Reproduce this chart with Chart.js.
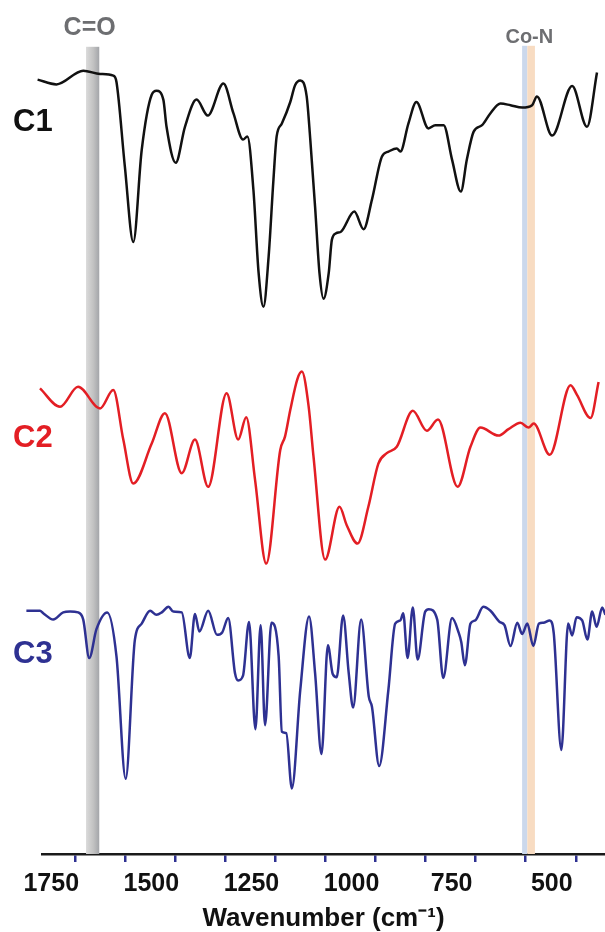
<!DOCTYPE html>
<html>
<head>
<meta charset="utf-8">
<script src="https://cdn.jsdelivr.net/npm/chart.js@4.4.0/dist/chart.umd.min.js"></script>
<style>
  html, body { margin: 0; padding: 0; background: #fff; }
  #wrap { width: 605px; height: 932px; }
</style>
</head>
<body>
<div id="wrap"><canvas id="irChart" width="605" height="932"></canvas></div>
<script>
// IR spectra, wavenumber (cm-1) vs offset transmittance (a.u.)
const c1Wavenumber = [1844,1797,1730,1688,1655,1647,1626,1605,1584,1559,1547,1530,1522,1499,1476,1447,1419,1380,1355,1331,1320,1305,1292,1280,1267,1255,1247,1234,1213,1201,1188,1172,1163,1151,1140,1130,1117,1109,1098,1086,1053,1030,1009,984,968,947,938,918,898,868,851,830,809,787,772,755,734,713,688,663,634,609,597,559,509,472,447];
const c1Signal = [96.8,96.2,97.9,97.5,97.3,96.5,85.9,76.5,88,94.9,95.4,94.3,90.9,86.4,90.9,94.3,92.3,96.3,92.6,89.3,89.7,83,72.6,68.4,74.7,84.3,89.7,91.3,94.0,96.1,96.7,94.7,89.3,80.9,72.6,69.4,72.6,76.8,77.6,77.8,80.3,78.1,81.8,87.2,87.8,88.2,87.8,91.3,94.0,90.7,91.1,91.1,86.8,82.8,86.8,90.3,91.1,92.6,93.8,93.6,93.3,93.6,94.7,89.8,96,90.9,97.7];

const c2Wavenumber = [1838,1788,1743,1688,1655,1630,1605,1559,1526,1484,1451,1418,1372,1343,1323,1301,1273,1238,1226,1213,1195,1184,1167,1155,1126,1090,1072,1045,1018,993,972,947,907,872,844,795,763,738,693,668,638,618,605,565,513,497,463,443];
const c2Signal = [58.2,55.9,58.4,55.7,58,51.8,46.3,51.3,55.1,47.6,51.8,45.9,57.6,51.8,54.6,46.8,36.3,50.5,52.2,55.5,59.4,60.3,55.9,49.7,36.8,43.4,41.1,38.8,43.4,48.8,50.1,50.9,55.4,52.9,54.3,45.9,50.9,53.3,52.3,53.1,53.9,53.3,53.8,49.9,58.6,57.4,54.5,59.0];

const c3Wavenumber = [1872,1838,1830,1805,1780,1763,1743,1730,1715,1697,1670,1647,1624,1601,1584,1563,1547,1534,1517,1505,1484,1464,1451,1440,1418,1396,1383,1368,1351,1343,1331,1316,1300,1287,1276,1260,1242,1234,1223,1209,1188,1166,1151,1135,1119,1107,1097,1081,1067,1056,1036,1017,1009,991,968,951,938,931,920,907,895,876,867,846,831,809,792,786,777,763,751,731,713,690,678,663,646,634,621,606,592,581,565,555,536,519,509,498,484,471,459,448,434,426];
const c3Signal = [30.4,30.4,30.1,29.3,30.2,30.3,30.2,29.3,24.5,28.1,30.2,24.7,9.4,26.8,28.8,30.4,29.9,30.2,30.9,30.3,30.2,24.5,30,27.8,30.4,27.4,27.7,29.5,22.6,21.7,22.3,29,15.6,28.6,16.1,28.9,24.7,15.3,15.1,8.2,20.5,29.7,22.6,12.5,26.1,22.5,22.1,29.8,22.6,18.3,29.3,19.7,18.4,11,20.5,28.8,29.2,30.1,24.5,30.8,24.3,30.3,30.6,29.3,22,29.5,27.6,26.5,23.6,28.8,29.2,30.9,30.4,29,28.6,26,28.9,27.5,28.8,26,28.8,28.9,29.2,27.6,13,28.8,27.3,29.6,29.2,26.8,30.3,28.4,30.8,29.9];

const seriesNames = ['C1', 'C2', 'C3'];
const seriesColors = ['#111111', '#e31e24', '#2e3192'];
const seriesLabelLevel = [91.5, 52, 25];   // where the series name sits (a.u.)

const tickLabels = [1750, 1500, 1250, 1000, 750, 500];

// marked regions (cm-1)
const bandCO = [1723, 1690];
const bandCoN = [634, 621, 602];

function toPoints(xs, ys) {
  return xs.map((x, i) => ({ x: x, y: ys[i] }));
}

const bandsPlugin = {
  id: 'bands',
  beforeDatasetsDraw(chart) {
    const ctx = chart.ctx;
    const xs = chart.scales.x;
    const ys = chart.scales.y;
    const top = ys.getPixelForValue(100.9);
    const bottom = chart.chartArea.bottom;
    ctx.save();
    // C=O
    let l = xs.getPixelForValue(bandCO[0]);
    let r = xs.getPixelForValue(bandCO[1]);
    const g = ctx.createLinearGradient(l, 0, r, 0);
    g.addColorStop(0, '#dadada');
    g.addColorStop(0.55, '#c2c2c2');
    g.addColorStop(1, '#a3a5a9');
    ctx.fillStyle = g;
    ctx.fillRect(l, top, r - l, bottom - top);
    // Co-N
    l = xs.getPixelForValue(bandCoN[0]);
    const m = xs.getPixelForValue(bandCoN[1]);
    r = xs.getPixelForValue(bandCoN[2]);
    ctx.fillStyle = '#cbd8ec';
    ctx.fillRect(l, top - 1, m - l, bottom - top + 1);
    ctx.fillStyle = '#f8dcc2';
    ctx.fillRect(m, top - 1, r - m, bottom - top + 1);
    ctx.restore();
  },
  afterDraw(chart) {
    const ctx = chart.ctx;
    const xs = chart.scales.x;
    const ys = chart.scales.y;
    ctx.save();
    ctx.textBaseline = 'alphabetic';
    ctx.fillStyle = '#6d6e71';
    ctx.textAlign = 'center';
    ctx.font = 'bold 25px "Liberation Sans", Arial, sans-serif';
    ctx.fillText('C=O', xs.getPixelForValue((bandCO[0] + bandCO[1]) / 2) - 3, 35);
    ctx.font = 'bold 20px "Liberation Sans", Arial, sans-serif';
    ctx.fillText('Co-N', xs.getPixelForValue(bandCoN[1]) + 2, 43);
    ctx.textAlign = 'left';
    ctx.textBaseline = 'middle';
    ctx.font = 'bold 31px "Liberation Sans", Arial, sans-serif';
    seriesNames.forEach((name, i) => {
      ctx.fillStyle = seriesColors[i];
      ctx.fillText(name, 13, ys.getPixelForValue(seriesLabelLevel[i]));
    });
    ctx.restore();
  }
};

const datasets = [
  toPoints(c1Wavenumber, c1Signal),
  toPoints(c2Wavenumber, c2Signal),
  toPoints(c3Wavenumber, c3Signal)
].map((pts, i) => ({
  label: seriesNames[i],
  data: pts,
  borderColor: seriesColors[i],
  borderWidth: 2.5,
  pointRadius: 0,
  cubicInterpolationMode: 'monotone',
  fill: false,
  clip: false
}));

new Chart(document.getElementById('irChart'), {
  type: 'line',
  data: { datasets: datasets },
  plugins: [bandsPlugin],
  options: {
    responsive: false,
    animation: false,
    layout: { padding: { left: 42, right: 0, top: 54, bottom: 0 } },
    plugins: { legend: { display: false }, tooltip: { enabled: false } },
    scales: {
      x: {
        type: 'linear',
        reverse: true,
        min: 427,
        max: 1833,
        afterFit(scale) { scale.height = 78; },
        border: { display: true, color: '#1a1a1a', width: 2.5 },
        grid: {
          drawOnChartArea: false,
          drawTicks: true,
          tickLength: 8,
          color: '#2e3192',
          lineWidth: 2.5
        },
        ticks: {
          stepSize: 125,
          includeBounds: false,
          autoSkip: false,
          maxRotation: 0,
          labelOffset: -24,
          padding: 7,
          color: '#111',
          font: { family: '"Liberation Sans", Arial, sans-serif', size: 25, weight: 'bold' },
          callback: (v) => tickLabels.includes(v) ? String(v) : ''
        },
        title: {
          display: true,
          text: 'Wavenumber (cm⁻¹)',
          color: '#111',
          padding: { top: 0, bottom: 0 },
          font: { family: '"Liberation Sans", Arial, sans-serif', size: 26, weight: 'bold', lineHeight: 1.0 }
        }
      },
      y: {
        display: false,
        min: 0,
        max: 100
      }
    }
  }
});
</script>
</body>
</html>
